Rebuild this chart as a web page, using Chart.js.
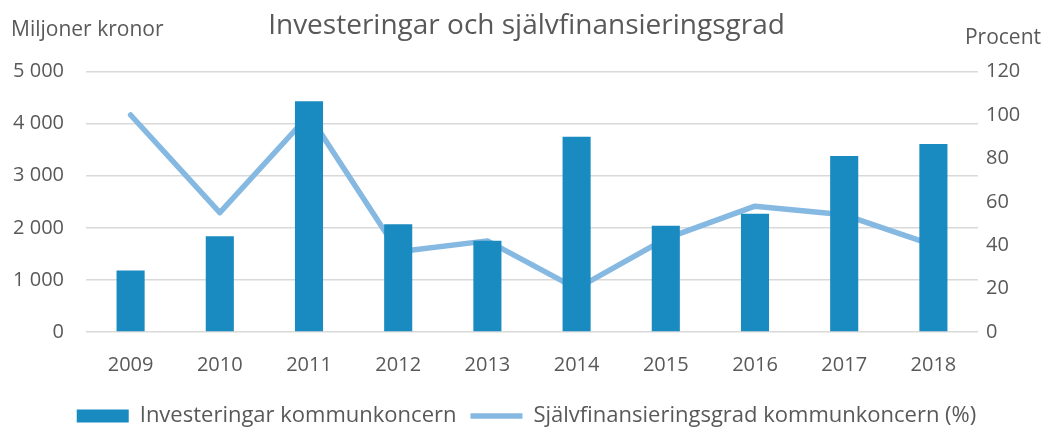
<!DOCTYPE html>
<html lang="sv">
<head>
    <meta charset="UTF-8">
    <title>Investeringar och självfinansieringsgrad</title>
    <script src="https://cdn.jsdelivr.net/npm/chart.js"></script>
    <style>
        body { margin: 0; background: #ffffff; }
        #wrap { width: 1053px; height: 429px; position: relative; }
    </style>
</head>
<body>
    <div id="wrap"><canvas id="chart"></canvas></div>

    <script>
        const years = ['2009', '2010', '2011', '2012', '2013', '2014', '2015', '2016', '2017', '2018'];
        const investeringar = [1180, 1840, 4430, 2070, 1750, 3750, 2040, 2270, 3380, 3610];
        const sjalvfinansiering = [100, 55, 100, 37, 42, 20, 43, 58, 54, 40];

        const textColor = '#595959';
        const fontFamily = '"Open Sans", Lato, sans-serif';

        // axeltitlar överst till vänster och höger
        const axisTitles = {
            id: 'axisTitles',
            afterDraw(chart) {
                const ctx = chart.ctx;
                ctx.save();
                ctx.fillStyle = textColor;
                ctx.font = '21px ' + fontFamily;
                ctx.textBaseline = 'middle';
                ctx.textAlign = 'left';
                ctx.fillText('Miljoner kronor', 11, 30);
                ctx.textAlign = 'right';
                ctx.fillText('Procent', 1041, 38);
                ctx.restore();
            }
        };

        const ctx = document.getElementById('chart').getContext('2d');
        new Chart(ctx, {
            data: {
                labels: years,
                datasets: [
                    {
                        type: 'bar',
                        label: 'Investeringar kommunkoncern',
                        data: investeringar,
                        backgroundColor: '#1a8bc0',
                        yAxisID: 'y',
                        barPercentage: 0.315,
                        categoryPercentage: 1,
                        pointStyle: 'rect'
                    },
                    {
                        type: 'line',
                        label: 'Självfinansieringsgrad kommunkoncern (%)',
                        data: sjalvfinansiering,
                        borderColor: '#86b9e1',
                        backgroundColor: '#86b9e1',
                        borderWidth: 5.5,
                        borderCapStyle: 'round',
                        borderJoinStyle: 'round',
                        pointRadius: 0,
                        pointStyle: 'line',
                        tension: 0,
                        yAxisID: 'y1'
                    }
                ]
            },
            options: {
                responsive: true,
                maintainAspectRatio: false,
                animation: false,
                layout: { padding: { top: 4, left: 0, right: 0, bottom: -8 } },
                plugins: {
                    title: {
                        display: true,
                        text: 'Investeringar och självfinansieringsgrad',
                        color: textColor,
                        font: { family: fontFamily, size: 28, weight: 'normal' },
                        padding: { top: 5, bottom: 29 }
                    },
                    legend: {
                        position: 'bottom',
                        labels: {
                            color: textColor,
                            font: { family: fontFamily, size: 22 },
                            usePointStyle: true,
                            pointStyleWidth: 52,
                            boxHeight: 13,
                            padding: 14
                        }
                    },
                    tooltip: { enabled: false }
                },
                scales: {
                    x: {
                        grid: { display: false },
                        border: { display: false },
                        ticks: { color: textColor, font: { family: fontFamily, size: 20 }, padding: 13 },
                        afterFit: s => { s.height = 59; }
                    },
                    y: {
                        position: 'left',
                        min: 0,
                        max: 5000,
                        ticks: {
                            stepSize: 1000,
                            color: textColor,
                            font: { family: fontFamily, size: 20 },
                            padding: 22,
                            callback: v => v.toString().replace(/\B(?=(\d{3})+(?!\d))/g, ' ')
                        },
                        grid: { color: '#d9d9d9', lineWidth: 1.5, drawTicks: false },
                        border: { display: false },
                        afterFit: s => { s.width = 86; }
                    },
                    y1: {
                        position: 'right',
                        min: 0,
                        max: 120,
                        ticks: { stepSize: 20, color: textColor, font: { family: fontFamily, size: 20 }, padding: 8 },
                        grid: { display: false, drawTicks: false },
                        border: { display: false },
                        afterFit: s => { s.width = 75; }
                    }
                }
            },
            plugins: [axisTitles]
        });
    </script>
</body>
</html>
